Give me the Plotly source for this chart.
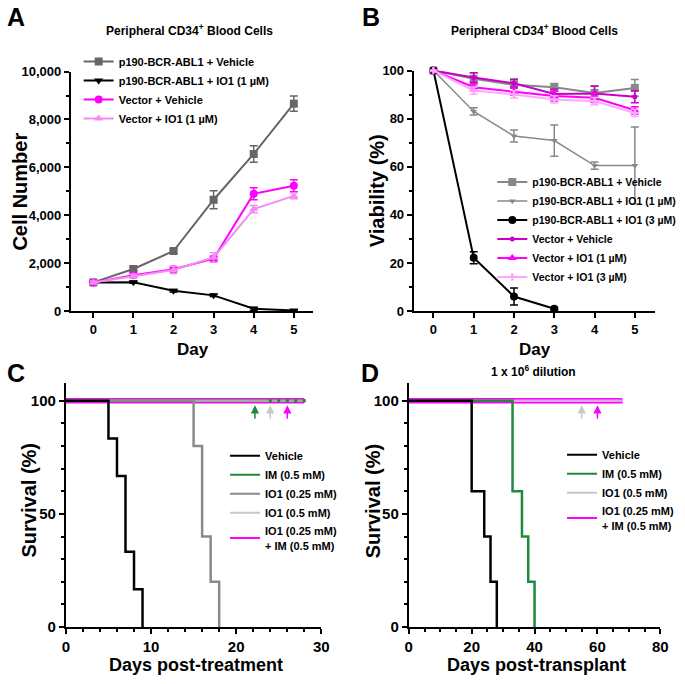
import plotly.graph_objects as go

FONT = "Liberation Sans, Arial, sans-serif"
W, H = 685, 684

# ---------------------------------------------------------------------------
# Data
# ---------------------------------------------------------------------------
days = [0, 1, 2, 3, 4, 5]

# Panel A: cell number
a_names = ["p190-BCR-ABL1 + Vehicle", "p190-BCR-ABL1 + IO1 (1 µM)",
           "Vector + Vehicle", "Vector + IO1 (1 µM)"]
a_p190_veh = [1200, 1760, 2510, 4650, 6560, 8660]
a_p190_veh_err = [50, 80, 80, 380, 340, 320]
a_p190_io1 = [1200, 1210, 850, 660, 100, 30]
a_p190_io1_err = [30, 40, 50, 50, 60, 30]
a_vec_veh = [1200, 1500, 1750, 2190, 4900, 5230]
a_vec_veh_err = [60, 80, 100, 100, 250, 250]
a_vec_io1 = [1200, 1460, 1720, 2240, 4260, 4810]
a_vec_io1_err = [60, 80, 150, 200, 150, 120]

# Panel B: viability
b_names = ["p190-BCR-ABL1 + Vehicle", "p190-BCR-ABL1 + IO1 (1 µM)",
           "p190-BCR-ABL1 + IO1 (3 µM)", "Vector + Vehicle",
           "Vector + IO1 (1 µM)", "Vector + IO1 (3 µM)"]
b_p190_veh = [100, 96.6, 94.1, 93.1, 90.7, 92.8]
b_p190_veh_err = [0, 2.5, 2.5, 1.5, 3, 3.5]
b_p190_io1 = [100, 83.0, 72.8, 70.9, 60.5, 60.5]
b_p190_io1_err = [0, 1.5, 2.5, 6.5, 1.5, 16]
b_p190_io3 = [100, 22.2, 6.1, 1.0]
b_p190_io3_err = [0, 2.5, 3.5, 0.5]
b_vec_veh = [100, 97.1, 94.7, 90.3, 90.5, 89.1]
b_vec_veh_err = [0, 2, 1.5, 2, 3, 2.5]
b_vec_io1 = [100, 93.1, 91.2, 89.4, 88.7, 83.5]
b_vec_io1_err = [0, 1.5, 1.5, 2, 2, 1.5]
b_vec_io3 = [100, 91.7, 90.1, 88.0, 87.3, 82.4]
b_vec_io3_err = [0, 1.5, 1.5, 1.5, 1.5, 1.5]

# Panel C: survival post-treatment (Kaplan-Meier steps)
c_veh_t = [0, 5, 6, 7, 8, 9]
c_veh_s = [100, 83.3, 66.7, 33.3, 16.7, 0]
c_io1_lo_t = [0, 15, 16, 17, 18]
c_io1_lo_s = [100, 80, 40, 20, 0]
c_im_t = [0, 28]
c_im_s = [100, 100]
c_im_censor_t = [24, 25, 26, 27, 28]
c_im_censor_s = [100, 100, 100, 100, 100]
c_io1_hi_t = [0, 28]
c_io1_hi_s = [100, 100]
c_combo_t = [0, 28]
c_combo_s = [100, 100]
c_arrow_days = [22.2, 24, 26]

# Panel D: survival post-transplant
d_veh_t = [0, 20, 24, 26, 28]
d_veh_s = [100, 60, 40, 20, 0]
d_im_t = [0, 33, 36, 38, 40]
d_im_s = [100, 60, 40, 20, 0]
d_io1_t = [0, 68]
d_io1_s = [100, 100]
d_combo_t = [0, 68]
d_combo_s = [100, 100]
d_arrow_days = [55, 60]

GRAY_A = "#666666"
GRAY_B = "#888888"
MAGENTA = "#ff00ff"
PINK = "#f48af4"
PURPLE = "#c800c8"
LIGHT_PINK = "#ffa6ff"
GREEN = "#1e8a3c"
LIGHT_GRAY = "#c8c8c8"

fig = go.Figure()


def err_line(name, x, y, err, color, symbol, size, width, xa, ya, legend):
    fig.add_trace(go.Scatter(
        x=x, y=y, name=name, mode="lines+markers",
        line=dict(color=color, width=width),
        marker=dict(color=color, symbol=symbol, size=size),
        error_y=dict(type="data", array=err, color=color, thickness=1.5, width=4),
        xaxis=xa, yaxis=ya, legend=legend, cliponaxis=False,
    ))


# ---- Panel A ----
err_line(a_names[0], days, a_p190_veh, a_p190_veh_err, GRAY_A, "square", 8, 2, "x", "y", "legend")
err_line(a_names[1], days, a_p190_io1, a_p190_io1_err, "black", "triangle-down", 8, 2, "x", "y", "legend")
err_line(a_names[2], days, a_vec_veh, a_vec_veh_err, MAGENTA, "circle", 8, 2, "x", "y", "legend")
err_line(a_names[3], days, a_vec_io1, a_vec_io1_err, PINK, "triangle-up", 8, 2, "x", "y", "legend")

# ---- Panel B ----
err_line(b_names[0], days, b_p190_veh, b_p190_veh_err, GRAY_B, "square", 8, 2, "x2", "y2", "legend2")
err_line(b_names[1], days, b_p190_io1, b_p190_io1_err, GRAY_B, "triangle-down", 6, 1.5, "x2", "y2", "legend2")
err_line(b_names[2], days[:4], b_p190_io3, b_p190_io3_err, "black", "circle", 8, 2, "x2", "y2", "legend2")
err_line(b_names[3], days, b_vec_veh, b_vec_veh_err, PURPLE, "circle", 5, 2, "x2", "y2", "legend2")
err_line(b_names[4], days, b_vec_io1, b_vec_io1_err, MAGENTA, "triangle-up", 8, 2, "x2", "y2", "legend2")
err_line(b_names[5], days, b_vec_io3, b_vec_io3_err, LIGHT_PINK, "cross", 6, 2, "x2", "y2", "legend2")


def km(x, y, color, width, xa, ya):
    fig.add_trace(go.Scatter(
        x=x, y=y, mode="lines", line=dict(color=color, width=width, shape="hv"),
        xaxis=xa, yaxis=ya, showlegend=False, cliponaxis=False, hoverinfo="skip",
    ))


def proxy(name, color, legend, rank):
    fig.add_trace(go.Scatter(
        x=[None], y=[None], mode="lines", name=name, line=dict(color=color, width=2),
        legend=legend, legendrank=rank, xaxis="x3", yaxis="y3",
    ))


# ---- Panel C ----
km(c_combo_t, c_combo_s, MAGENTA, 5.5, "x3", "y3")
km(c_im_t, c_im_s, GREEN, 3, "x3", "y3")
km(c_io1_hi_t, c_io1_hi_s, "#a8a8a8", 2.5, "x3", "y3")
km(c_io1_lo_t, c_io1_lo_s, "#8a8a8a", 2.5, "x3", "y3")
km(c_veh_t, c_veh_s, "black", 2.5, "x3", "y3")
fig.add_trace(go.Scatter(
    x=c_im_censor_t, y=c_im_censor_s, mode="markers",
    marker=dict(color=GREEN, symbol="square", size=3),
    xaxis="x3", yaxis="y3", showlegend=False, cliponaxis=False,
))
proxy("Vehicle", "black", "legend3", 1)
proxy("IM (0.5 mM)", GREEN, "legend3", 2)
proxy("IO1 (0.25 mM)", "#8a8a8a", "legend3", 3)
proxy("IO1 (0.5 mM)", LIGHT_GRAY, "legend3", 4)
proxy("IO1 (0.25 mM)<br>+ IM (0.5 mM)", MAGENTA, "legend3", 5)

# ---- Panel D ----
km(d_combo_t, d_combo_s, MAGENTA, 5.5, "x4", "y4")
km(d_io1_t, d_io1_s, "#e0a8e0", 2.5, "x4", "y4")
km(d_im_t, d_im_s, GREEN, 2.5, "x4", "y4")
km(d_veh_t, d_veh_s, "black", 2.5, "x4", "y4")
proxy("Vehicle", "black", "legend4", 1)
proxy("IM (0.5 mM)", GREEN, "legend4", 2)
proxy("IO1 (0.5 mM)", LIGHT_GRAY, "legend4", 3)
proxy("IO1 (0.25 mM)<br>+ IM (0.5 mM)", MAGENTA, "legend4", 4)

# ---------------------------------------------------------------------------
# Axes
# ---------------------------------------------------------------------------
def px_x(p):
    return p / W


def px_y(p):
    return 1 - p / H


def tfont(size):
    return dict(family=FONT, size=size, color="black", weight="bold")


AX = dict(showline=True, linecolor="black", linewidth=2, ticks="outside",
          ticklen=5, tickwidth=2, tickcolor="black", showgrid=False, zeroline=False)
MINOR = dict(ticks="outside", ticklen=3, tickwidth=1.5, tickcolor="black", showgrid=False)

fig.update_layout(
    xaxis=dict(**AX, tickfont=tfont(13), domain=[px_x(68), px_x(315)], range=[-0.56, 5.49],
               tickvals=days, anchor="y"),
    yaxis=dict(**AX, tickfont=tfont(13), domain=[px_y(311), px_y(66)], range=[0, 10000],
               dtick=2000, tickformat=",", minor=dict(**MINOR, dtick=1000), anchor="x"),
    xaxis2=dict(**AX, tickfont=tfont(13), domain=[px_x(417), px_x(663)], range=[-0.49, 5.51],
                tickvals=days, anchor="y2"),
    yaxis2=dict(**AX, tickfont=tfont(13), domain=[px_y(311), px_y(65)], range=[0, 100],
                dtick=20, minor=dict(**MINOR, dtick=10), anchor="x2"),
    xaxis3=dict(**AX, tickfont=tfont(15), domain=[px_x(63), px_x(323)], range=[0, 30],
                dtick=10, minor=dict(**MINOR, dtick=2), anchor="y3"),
    yaxis3=dict(**AX, tickfont=tfont(15), domain=[px_y(634), px_y(384)], range=[0, 108],
                tickvals=[0, 50, 100], minor=dict(**MINOR, dtick=10), anchor="x3"),
    xaxis4=dict(**AX, tickfont=tfont(15), domain=[px_x(412), px_x(668)], range=[0, 80],
                dtick=20, minor=dict(**MINOR, dtick=5), anchor="y4"),
    yaxis4=dict(**AX, tickfont=tfont(15), domain=[px_y(634), px_y(384)], range=[0, 108],
                tickvals=[0, 50, 100], minor=dict(**MINOR, dtick=10), anchor="x4"),
)

LEG = dict(bgcolor="rgba(0,0,0,0)", borderwidth=0, xanchor="left", yanchor="top")
fig.update_layout(
    legend=dict(**LEG, x=px_x(76), y=px_y(41), font=tfont(11)),
    legend2=dict(**LEG, x=px_x(497), y=px_y(164), font=tfont(10.5)),
    legend3=dict(**LEG, x=px_x(225), y=px_y(444), font=tfont(11)),
    legend4=dict(**LEG, x=px_x(568), y=px_y(443), font=tfont(11)),
)

# ---------------------------------------------------------------------------
# Text
# ---------------------------------------------------------------------------
def label(text, x, y, size, angle=0, xanchor="center", yanchor="middle"):
    fig.add_annotation(text=text, x=px_x(x), y=px_y(y), xref="paper", yref="paper",
                       showarrow=False, textangle=angle, xanchor=xanchor, yanchor=yanchor,
                       font=tfont(size))


label("A", 1, 10, 25, xanchor="left")
label("B", 362, 10, 25, xanchor="left")
label("C", 1, 374, 25, xanchor="left")
label("D", 361, 374, 25, xanchor="left")

label("Peripheral CD34<sup>+</sup> Blood Cells", 189, 24, 12)
label("Peripheral CD34<sup>+</sup> Blood Cells", 540, 24, 12)
label("1 x 10<sup>6</sup> dilution", 539, 372, 12)

label("Cell Number", 16, 189, 20, angle=-90)
label("Viability (%)", 380, 188, 20, angle=-90)
label("Day", 192, 350, 17)
label("Day", 540, 350, 17)
label("Survival (%)", 25, 505, 20, angle=-90)
label("Survival (%)", 375, 505, 20, angle=-90)
label("Days post-treatment", 195, 673, 18)
label("Days post-transplant", 542, 673, 18)

# arrows over the surviving groups
for day, color in zip(c_arrow_days, [GREEN, LIGHT_GRAY, MAGENTA]):
    fig.add_annotation(x=day, y=98, xref="x3", yref="y3", text="", showarrow=True,
                       ax=0, ay=15, arrowhead=2, arrowsize=1.1, arrowwidth=1.5,
                       arrowcolor=color)
for day, color in zip(d_arrow_days, [LIGHT_GRAY, MAGENTA]):
    fig.add_annotation(x=day, y=98, xref="x4", yref="y4", text="", showarrow=True,
                       ax=0, ay=15, arrowhead=2, arrowsize=1.1, arrowwidth=1.5,
                       arrowcolor=color)

fig.update_layout(
    width=W, height=H,
    margin=dict(l=0, r=0, t=0, b=0),
    paper_bgcolor="white", plot_bgcolor="white",
    font=dict(family=FONT, color="black"),
)

fig.write_html("out.html", config={"displayModeBar": False},
               post_script="document.body.style.margin='0';")
